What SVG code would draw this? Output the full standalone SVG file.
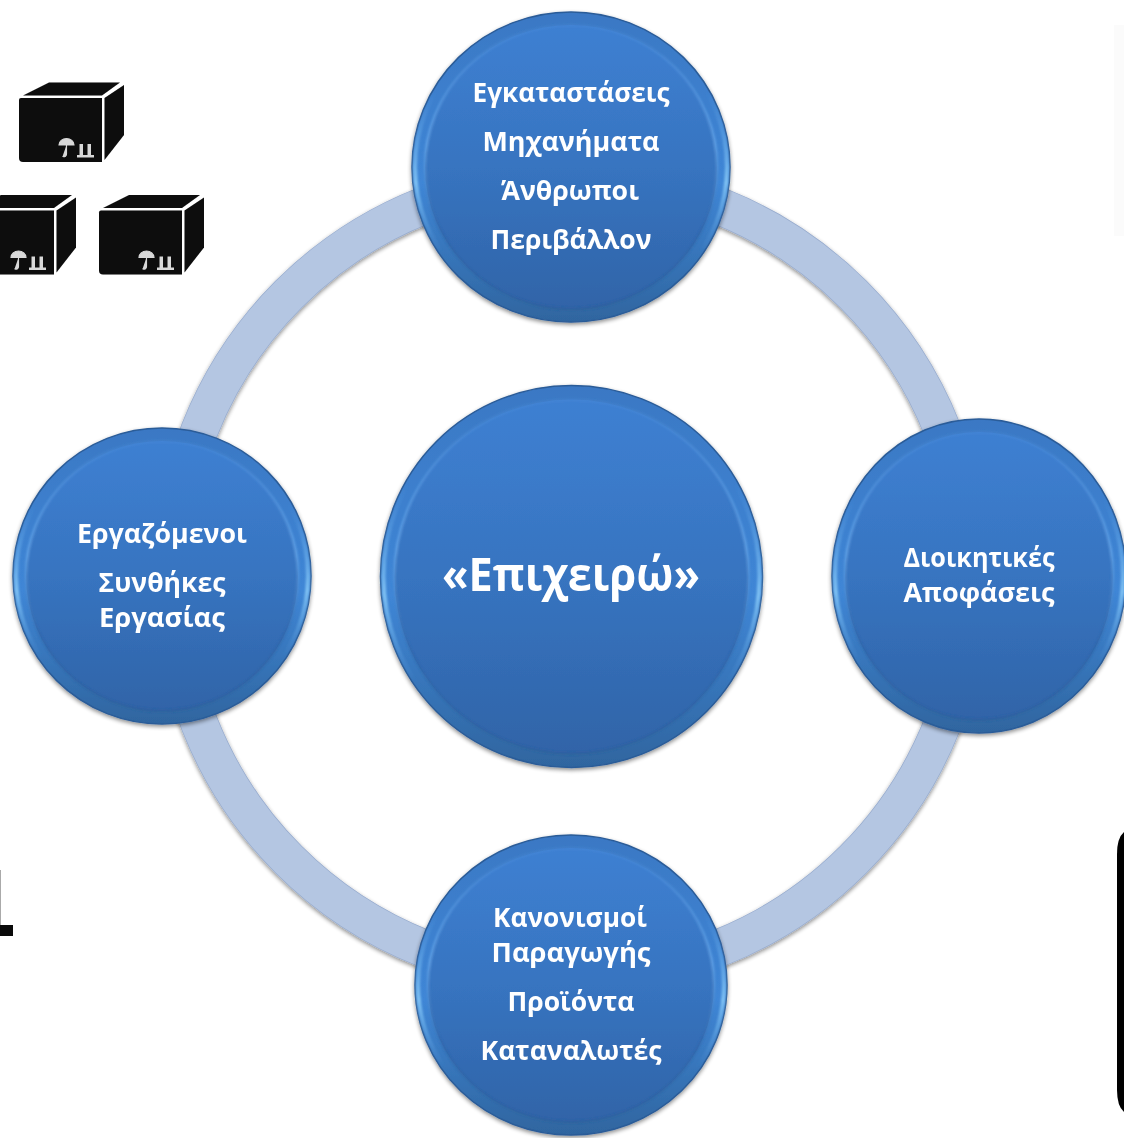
<svg xmlns="http://www.w3.org/2000/svg" xmlns:xlink="http://www.w3.org/1999/xlink" width="1124" height="1138" viewBox="0 0 1124 1138">
<style>
.rim{fill:url(#rimG);stroke:#2b5c98;stroke-width:1.5}
.rimlight{fill:none;stroke:url(#lightG);stroke-width:4;filter:url(#soft2)}
.face{fill:url(#faceG)}
.faceedge{fill:none;stroke:url(#edgeG);stroke-width:2.5;filter:url(#soft2)}
.t{font-family:"Open Sans","Noto Sans",sans-serif;font-weight:700;fill:#fff;text-anchor:middle;font-size:27px}
.arc{fill:none;stroke:#b4c6e2;stroke-width:36.500}
.arcedge{fill:none;stroke:#98acce;stroke-width:38}
</style>
<defs>
<linearGradient id="rimG" x1="0" y1="0" x2="0" y2="1"><stop offset="0" stop-color="#3a78c4"/><stop offset="0.55" stop-color="#3f86d6"/><stop offset="1" stop-color="#2f659f"/></linearGradient>
<linearGradient id="faceG" x1="0" y1="0" x2="0" y2="1"><stop offset="0" stop-color="#3e80d2"/><stop offset="0.5" stop-color="#3774c0"/><stop offset="1" stop-color="#3064a8"/></linearGradient>
<linearGradient id="lightG" x1="0" y1="0" x2="0" y2="1"><stop offset="0.25" stop-color="#5fa6ea" stop-opacity="0"/><stop offset="0.55" stop-color="#8fd0fa" stop-opacity="0.8"/><stop offset="0.78" stop-color="#5fa6ea" stop-opacity="0"/></linearGradient>
<linearGradient id="edgeG" x1="0" y1="0" x2="0" y2="1"><stop offset="0" stop-color="#6aaaf0" stop-opacity="0.12"/><stop offset="0.42" stop-color="#77b5f2" stop-opacity="0.6"/><stop offset="0.72" stop-color="#2c5d9c" stop-opacity="0.4"/><stop offset="1" stop-color="#2a578f" stop-opacity="0.3"/></linearGradient>
<filter id="sh" x="-10%" y="-10%" width="120%" height="120%"><feGaussianBlur in="SourceAlpha" stdDeviation="2"/><feOffset dy="2"/><feComponentTransfer><feFuncA type="linear" slope="0.45"/></feComponentTransfer><feMerge><feMergeNode/><feMergeNode in="SourceGraphic"/></feMerge></filter>
<filter id="soft" x="-5%" y="-5%" width="110%" height="110%"><feGaussianBlur stdDeviation="0.6"/></filter>
<filter id="soft2" x="-5%" y="-5%" width="110%" height="110%"><feGaussianBlur stdDeviation="1"/></filter>
<g id="box" filter="url(#soft)">
<path d="M19 100q0-2 2-2h81v64H23q-4 0-4-4z" fill="#0a0a0a"/>
<path d="M23 95.500L49 82.500H120L102 95.500z" fill="#0a0a0a"/>
<path d="M104.500 98L124 85V135L104.500 160z" fill="#0a0a0a"/>
<path d="M59 145a7.500 6.500 0 0 1 15 0zM66.500 145v9q0 3-4 2.500" fill="#d8d8d8" stroke="#d8d8d8" stroke-width="1.200"/>
<path d="M77 155h17v2.500H77zM79.500 144h3.500v11h-3.500zM87.500 144h3.500v11h-3.500z" fill="#d8d8d8"/>
</g>
</defs>
<rect width="1124" height="1138" fill="#fff"/>
<rect x="1114" y="25" width="10" height="211" fill="#fbfbfb"/>
<g id="boxes">
<use xlink:href="#box" href="#box"/>
<use xlink:href="#box" href="#box" x="-48" y="112.500"/>
<use xlink:href="#box" href="#box" x="80" y="112.500"/>
</g>
<g id="fragments">
<rect x="0" y="925" width="13" height="11" fill="#0a0a0a"/>
<rect x="0" y="870" width="1" height="55" fill="#aaa"/>
<path d="M1124 832q-7 6-7 22V1090q0 16 7 22z" fill="#000"/>
</g>
<g id="connectors" filter="url(#sh)">
<path class="arcedge" d="M571 177.500A399.500 399.500 0 0 1 970.500 577"/>
<path class="arcedge" d="M970.500 577A399.500 399.500 0 0 1 571 976.500"/>
<path class="arcedge" d="M571 976.500A399.500 399.500 0 0 1 171.500 577"/>
<path class="arcedge" d="M171.500 577A399.500 399.500 0 0 1 571 177.500"/>
<path class="arc" d="M571 177.500A399.500 399.500 0 0 1 970.500 577"/>
<path class="arc" d="M970.500 577A399.500 399.500 0 0 1 571 976.500"/>
<path class="arc" d="M571 976.500A399.500 399.500 0 0 1 171.500 577"/>
<path class="arc" d="M171.500 577A399.500 399.500 0 0 1 571 177.500"/>
</g>
<g id="node-top" filter="url(#sh)">
<ellipse class="rim" cx="571" cy="167" rx="159" ry="155"/>
<ellipse class="rimlight" cx="571" cy="167" rx="156" ry="152"/>
<ellipse class="face" cx="571" cy="167" rx="146" ry="142"/>
<ellipse class="faceedge" cx="571" cy="167" rx="146" ry="142"/>
<text class="t" x="571" y="102" textLength="197" lengthAdjust="spacingAndGlyphs">Εγκαταστάσεις</text>
<text class="t" x="571" y="151" textLength="177" lengthAdjust="spacingAndGlyphs">Μηχανήματα</text>
<text class="t" x="570" y="200" textLength="138" lengthAdjust="spacingAndGlyphs">Άνθρωποι</text>
<text class="t" x="571" y="249" textLength="161" lengthAdjust="spacingAndGlyphs">Περιβάλλον</text>
</g>
<g id="node-center" filter="url(#sh)">
<circle class="rim" cx="571.500" cy="576.500" r="191"/>
<circle class="rimlight" cx="571.500" cy="576.500" r="188"/>
<circle class="face" cx="571.500" cy="576.500" r="177"/>
<circle class="faceedge" cx="571.500" cy="576.500" r="177"/>
<text class="t" x="571" y="591" style="font-size:47px" textLength="258" lengthAdjust="spacingAndGlyphs">«Επιχειρώ»</text>
</g>
<g id="node-right" filter="url(#sh)">
<ellipse class="rim" cx="979" cy="576" rx="147" ry="157"/>
<ellipse class="rimlight" cx="979" cy="576" rx="144" ry="154"/>
<ellipse class="face" cx="979" cy="576" rx="134" ry="144"/>
<ellipse class="faceedge" cx="979" cy="576" rx="134" ry="144"/>
<text class="t" x="979" y="567" textLength="151" lengthAdjust="spacingAndGlyphs">Διοικητικές</text>
<text class="t" x="979" y="602" textLength="151" lengthAdjust="spacingAndGlyphs">Αποφάσεις</text>
</g>
<g id="node-bottom" filter="url(#sh)">
<ellipse class="rim" cx="571" cy="985" rx="156" ry="150"/>
<ellipse class="rimlight" cx="571" cy="985" rx="153" ry="147"/>
<ellipse class="face" cx="571" cy="985" rx="143" ry="137"/>
<ellipse class="faceedge" cx="571" cy="985" rx="143" ry="137"/>
<text class="t" x="570" y="927" textLength="154" lengthAdjust="spacingAndGlyphs">Κανονισμοί</text>
<text class="t" x="571" y="962" textLength="159" lengthAdjust="spacingAndGlyphs">Παραγωγής</text>
<text class="t" x="571" y="1011" textLength="127" lengthAdjust="spacingAndGlyphs">Προϊόντα</text>
<text class="t" x="571" y="1060" textLength="181" lengthAdjust="spacingAndGlyphs">Καταναλωτές</text>
</g>
<g id="node-left" filter="url(#sh)">
<ellipse class="rim" cx="162" cy="576" rx="149" ry="148"/>
<ellipse class="rimlight" cx="162" cy="576" rx="146" ry="145"/>
<ellipse class="face" cx="162" cy="576" rx="136" ry="135"/>
<ellipse class="faceedge" cx="162" cy="576" rx="136" ry="135"/>
<text class="t" x="162" y="543" textLength="170" lengthAdjust="spacingAndGlyphs">Εργαζόμενοι</text>
<text class="t" x="162" y="592" textLength="127" lengthAdjust="spacingAndGlyphs">Συνθήκες</text>
<text class="t" x="162" y="627" textLength="126" lengthAdjust="spacingAndGlyphs">Εργασίας</text>
</g>
</svg>
